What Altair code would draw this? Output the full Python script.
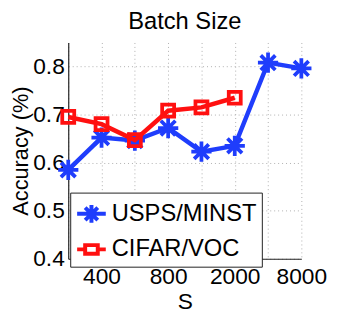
import altair as alt
import pandas as pd

# ---- data ----
batch_sizes = ["200", "400", "600", "800", "1000", "2000", "4000", "8000"]
shown_labels = ["400", "800", "2000", "8000"]
series_names = ["USPS/MINST", "CIFAR/VOC"]
usps_acc = [0.585, 0.652, 0.646, 0.672, 0.623, 0.635, 0.808, 0.796]
cifar_acc = [0.695, 0.680, 0.647, 0.708, 0.715, 0.735]
y_ticks = [0.4, 0.5, 0.6, 0.7, 0.8]
colors = ["#1f3dfc", "#ff1010"]

rows = []
for i, v in enumerate(usps_acc):
    rows.append({"idx": i + 1, "S": batch_sizes[i], "acc": v, "series": series_names[0]})
for i, v in enumerate(cifar_acc):
    rows.append({"idx": i + 1, "S": batch_sizes[i], "acc": v, "series": series_names[1]})
df = pd.DataFrame(rows)

FONT = "Liberation Sans"

ast = "M-1,0L1,0M0,-1L0,1M-0.72,-0.72L0.72,0.72M-0.72,0.72L0.72,-0.72"
sq = "M-0.7,-0.7L0.7,-0.7L0.7,0.7L-0.7,0.7Z"
# legend symbols: marker with a line segment through it
ast_leg = "M-1,0L1,0M0,-0.62L0,0.62M-0.44,-0.44L0.44,0.44M-0.44,0.44L0.44,-0.44"
sq_leg = "M-1,0L-0.44,0M0.44,0L1,0M-0.44,-0.3L0.44,-0.3L0.44,0.3L-0.44,0.3Z"

label_arr = "[" + ",".join("'" + (b if b in shown_labels else "") + "'" for b in batch_sizes) + "]"

x_enc = alt.X(
    "idx:Q",
    scale=alt.Scale(domain=[1, len(batch_sizes)], nice=False, zero=False),
    axis=alt.Axis(
        title="S",
        values=list(range(1, len(batch_sizes) + 1)),
        labelExpr=label_arr + "[datum.value - 1]",
        ticks=False,
        labelPadding=7,
        titlePadding=2,
        grid=True,
        labelFlush=False,
    ),
)
y_enc = alt.Y(
    "acc:Q",
    scale=alt.Scale(domain=[0.4, 0.85], nice=False, zero=False),
    axis=alt.Axis(
        title="Accuracy (%)",
        titleFontSize=22,
        values=y_ticks,
        format=".1f",
        ticks=False,
        labelPadding=4,
        titlePadding=0,
        grid=True,
    ),
)

color_scale = alt.Scale(domain=series_names, range=colors)

layers = []
for k, name in enumerate(series_names):
    sub = alt.Chart(df).transform_filter(alt.datum.series == name)
    line = sub.mark_line(strokeWidth=4.5).encode(
        x=x_enc, y=y_enc,
        color=alt.Color("series:N", scale=color_scale, legend=None),
    )
    pts = sub.mark_point(filled=False, strokeWidth=3.8, size=(420 if k == 0 else 300), opacity=1).encode(
        x=x_enc, y=y_enc,
        color=alt.Color("series:N", scale=color_scale, legend=None),
        shape=alt.Shape("series:N", scale=alt.Scale(domain=series_names, range=[ast, sq]), legend=None),
    )
    layers += [line, pts]

leg = dict(
    title=None,
    orient="none",
    legendX=2,
    legendY=152,
    strokeColor="#222222",
    fillColor="white",
    padding=5,
    rowPadding=2,
    symbolSize=841,
    symbolStrokeWidth=4,
    symbolOpacity=1,
    labelFont=FONT,
    labelFontSize=24,
    labelColor="black",
    labelOffset=4,
    cornerRadius=0,
)
legend_layer = alt.Chart(df).mark_point(filled=False, opacity=0, size=1).encode(
    x=x_enc, y=y_enc,
    color=alt.Color("series:N", scale=color_scale, sort=series_names, legend=alt.Legend(**leg)),
    shape=alt.Shape("series:N", sort=series_names,
                    scale=alt.Scale(domain=series_names, range=[ast_leg, sq_leg]),
                    legend=alt.Legend(**leg)),
)
layers.append(legend_layer)

chart = alt.layer(*layers).resolve_scale(
    color="independent", shape="independent"
).properties(
    width=236,
    height=219,
    title=alt.Title("Batch Size", font=FONT, fontSize=24, fontWeight="normal", color="black", offset=9),
    autosize=alt.AutoSizeParams(type="none"),
    padding={"left": 61, "top": 33, "right": 28, "bottom": 54},
).configure_view(
    stroke=None
).configure_axis(
    labelFont=FONT,
    labelFontSize=23,
    labelColor="black",
    titleFont=FONT,
    titleFontSize=23,
    titleFontWeight="normal",
    titleColor="black",
    domainColor="#222222",
    domainWidth=1.2,
    gridColor="#b0b0b0",
    gridDash=[1, 3],
    gridWidth=1,
)

chart.save("out.html", embed_options={"renderer": "svg", "actions": False})
